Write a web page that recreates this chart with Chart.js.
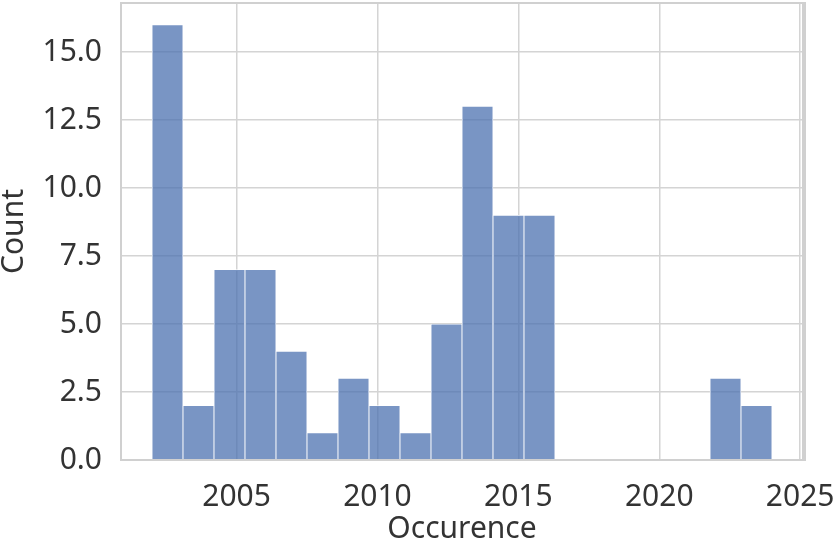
<!DOCTYPE html>
<html lang="en">
<head>
    <meta charset="UTF-8">
    <title>Occurence histogram</title>
    <script src="https://cdn.jsdelivr.net/npm/chart.js"></script>
    <style>
        html, body { margin: 0; padding: 0; background: #fff; }
        #wrap { width: 836px; height: 544px; }
    </style>
</head>
<body>
    <div id="wrap"><canvas id="hist" width="836" height="544"></canvas></div>
    <script>
        // histogram: 20 bins from 2002 to 2024
        const binStart = 2002;
        const binWidth = 1.1;
        const counts = [16, 2, 7, 7, 4, 1, 3, 2, 1, 5, 13, 9, 9, 0, 0, 0, 0, 0, 3, 2];
        const xTicks = [2005, 2010, 2015, 2020, 2025];
        const yTicks = [0, 2.5, 5, 7.5, 10, 12.5, 15];
        const xRange = [2000.9, 2025.1];
        const yRange = [0, 16.8];

        const points = counts.map((c, i) => ({ x: binStart + binWidth * (i + 0.5), y: c }));

        const font = "'Noto Sans', 'DejaVu Sans', sans-serif";
        const textColor = '#333333';
        const gridColor = '#d4d4d4';

        // frame around the plot area, like the seaborn spines
        const frame = {
            id: 'frame',
            afterDraw(chart) {
                const a = chart.chartArea;
                const ctx = chart.ctx;
                ctx.save();
                ctx.strokeStyle = '#d0d0d0';
                ctx.lineWidth = 2;
                ctx.strokeRect(a.left, a.top, a.right - a.left, a.bottom - a.top);
                ctx.lineWidth = 4;
                ctx.beginPath();
                ctx.moveTo(a.right + 1, a.top - 1);
                ctx.lineTo(a.right + 1, a.bottom + 1);
                ctx.stroke();
                ctx.restore();
            }
        };

        const ctx = document.getElementById('hist').getContext('2d');
        new Chart(ctx, {
            type: 'bar',
            data: {
                datasets: [{
                    data: points,
                    backgroundColor: 'rgba(76, 114, 176, 0.75)',
                    borderColor: '#ffffff',
                    borderWidth: 0.8,
                    borderSkipped: 'bottom',
                    barPercentage: 1,
                    categoryPercentage: 1
                }]
            },
            options: {
                responsive: false,
                animation: false,
                layout: { padding: { top: 3, right: 33, left: 0, bottom: 0 } },
                plugins: {
                    legend: { display: false },
                    tooltip: { enabled: false }
                },
                scales: {
                    x: {
                        type: 'linear',
                        offset: false,
                        min: xRange[0],
                        max: xRange[1],
                        afterBuildTicks: (axis) => { axis.ticks = xTicks.map(v => ({ value: v })); },
                        afterFit: (scale) => { scale.height = 84; scale.paddingLeft = 0; scale.paddingRight = 0; },
                        grid: { color: gridColor, lineWidth: 1.5, drawTicks: false, offset: false },
                        border: { display: false },
                        ticks: {
                            color: textColor,
                            font: { family: font, size: 30 },
                            padding: 19,
                            maxRotation: 0,
                            callback: (v) => String(v)
                        },
                        title: {
                            display: true,
                            text: 'Occurence',
                            color: textColor,
                            font: { family: font, size: 30 },
                            padding: { top: 0, bottom: -3 }
                        }
                    },
                    y: {
                        min: yRange[0],
                        max: yRange[1],
                        afterBuildTicks: (axis) => { axis.ticks = yTicks.map(v => ({ value: v })); },
                        afterFit: (scale) => { scale.width = 121; scale.paddingTop = 0; scale.paddingBottom = 0; },
                        grid: { color: gridColor, lineWidth: 1.5, drawTicks: false },
                        border: { display: false },
                        ticks: {
                            color: textColor,
                            font: { family: font, size: 30 },
                            padding: 19,
                            callback: (v) => v.toFixed(1)
                        },
                        title: {
                            display: true,
                            text: 'Count',
                            color: textColor,
                            font: { family: font, size: 30 },
                            padding: { top: -4, bottom: 0 }
                        }
                    }
                }
            },
            plugins: [frame]
        });
    </script>
</body>
</html>
